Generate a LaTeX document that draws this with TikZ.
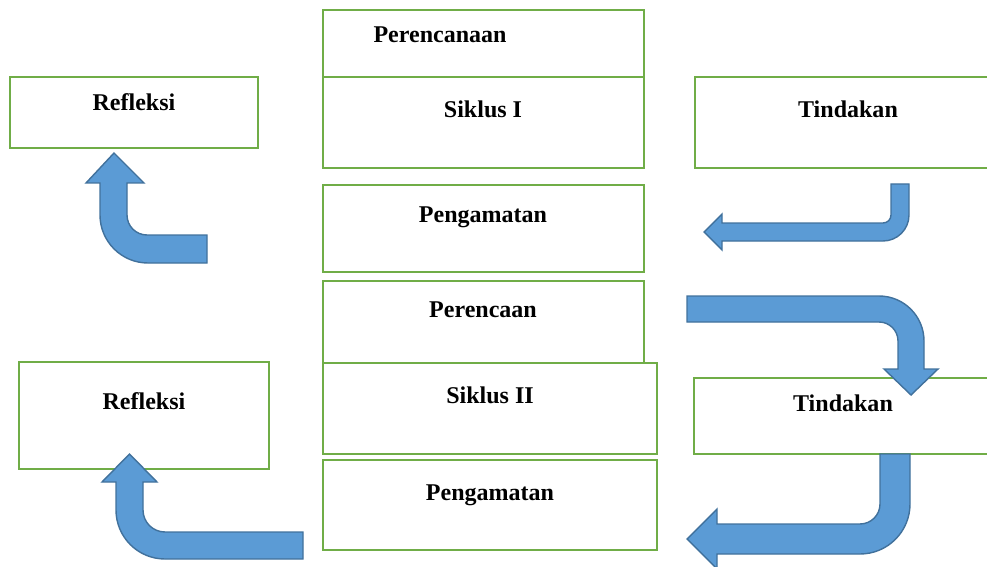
\documentclass[tikz,border=0pt]{standalone}
\usepackage{fontspec}
\setmainfont{Liberation Serif}
\usepackage{tikz}

\definecolor{boxgreen}{HTML}{70AD47}
\definecolor{arrowfill}{HTML}{5B9BD5}
\definecolor{arrowedge}{HTML}{41719C}

\begin{document}
\begin{tikzpicture}[
    x=0.03cm, y=-0.03cm,
    box/.style={rectangle, draw=boxgreen, fill=white, line width=1.7pt,
                anchor=north west, inner sep=0pt, outer sep=0pt},
    lbl/.style={anchor=base, inner sep=0pt, font=\fontsize{20.5}{24}\selectfont\bfseries},
    bent/.style={fill=arrowfill, draw=arrowedge, line width=1.2pt, line join=miter}
]

    \clip (0,0) rectangle (987,567);

    % Center column, cycle I
    \node[box, minimum width=9.63cm, minimum height=2.19cm] (plan1) at (323,10) {};
    \node[box, minimum width=9.63cm, minimum height=2.73cm] (siklus1) at (323,77) {};
    \node[box, minimum width=9.63cm, minimum height=2.61cm] (obs1) at (323,185) {};

    % Center column, cycle II
    \node[box, minimum width=9.63cm, minimum height=2.46cm] (plan2) at (323,281) {};
    \node[box, minimum width=10.02cm, minimum height=2.73cm] (siklus2) at (323,363) {};
    \node[box, minimum width=10.02cm, minimum height=2.70cm] (obs2) at (323,460) {};

    % Side boxes
    \node[box, minimum width=7.44cm, minimum height=2.13cm] (refl1) at (10,77) {};
    \node[box, minimum width=7.50cm, minimum height=3.21cm] (refl2) at (19,362) {};
    \node[box, minimum width=9.00cm, minimum height=2.73cm] (act1) at (695,77) {};
    \node[box, minimum width=9.00cm, minimum height=2.28cm] (act2) at (694,378) {};

    % Labels
    \node[lbl] (tplan1) at (440,43) {Perencanaan};
    \node[lbl] (tsiklus1) at (483,118) {Siklus I};
    \node[lbl] (tobs1) at (483,222) {Pengamatan};
    \node[lbl] (tplan2) at (483,317) {Perencaan};
    \node[lbl] (tsiklus2) at (490,403) {Siklus II};
    \node[lbl] (tobs2) at (490,500) {Pengamatan};
    \node[lbl] (trefl1) at (134,111) {Refleksi};
    \node[lbl] (trefl2) at (144,409) {Refleksi};
    \node[lbl] (tact1) at (848,118) {Tindakan};
    \node[lbl] (tact2) at (843,411) {Tindakan};

    % Bent arrows, cycle I
    \draw[bent] (207,235) -- (147,235) arc[start angle=90, end angle=180, radius=20]
        -- (127,183) -- (144,183) -- (114,153) -- (86,183) -- (100,183) -- (100,215)
        arc[start angle=180, end angle=90, radius=48] -- (207,263) -- cycle;
    \draw[bent] (891,184) -- (891,215) arc[start angle=0, end angle=90, radius=8]
        -- (722,223) -- (722,214) -- (704,232) -- (722,250) -- (722,241) -- (883,241)
        arc[start angle=90, end angle=0, radius=26] -- (909,184) -- cycle;

    % Bent arrows, cycle II
    \draw[bent] (687,296) -- (879,296) arc[start angle=-90, end angle=0, radius=45]
        -- (924,369) -- (938,369) -- (911,395) -- (884,369) -- (898,369) -- (898,341)
        arc[start angle=0, end angle=-90, radius=19] -- (687,322) -- cycle;
    \draw[bent] (880,454) -- (880,504) arc[start angle=0, end angle=90, radius=20]
        -- (717,524) -- (717,509) -- (687,539) -- (717,569) -- (717,554) -- (860,554)
        arc[start angle=90, end angle=0, radius=50] -- (910,454) -- cycle;
    \draw[bent] (303,532) -- (165,532) arc[start angle=90, end angle=180, radius=22]
        -- (143,482) -- (157,482) -- (129.5,454) -- (102,482) -- (116,482) -- (116,510)
        arc[start angle=180, end angle=90, radius=49] -- (303,559) -- cycle;

\end{tikzpicture}
\end{document}
